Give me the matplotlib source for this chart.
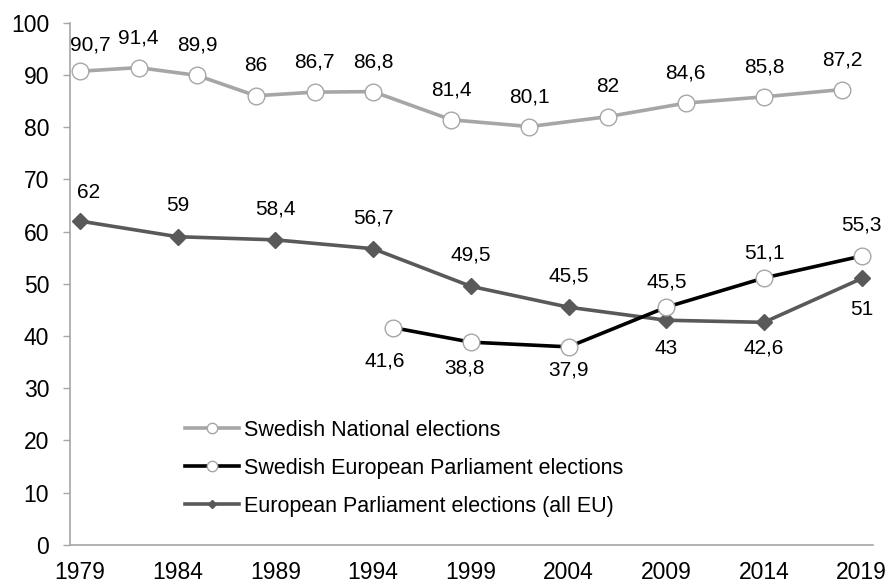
import matplotlib
matplotlib.use("Agg")
import matplotlib.pyplot as plt
from matplotlib.lines import Line2D

plt.rcParams['font.family'] = ['Liberation Sans', 'DejaVu Sans']

# Turnout (%) by election year
nat_years = [1979, 1982, 1985, 1988, 1991, 1994, 1998, 2002, 2006, 2010, 2014, 2018]
nat_turnout = [90.7, 91.4, 89.9, 86, 86.7, 86.8, 81.4, 80.1, 82, 84.6, 85.8, 87.2]

se_ep_years = [1995, 1999, 2004, 2009, 2014, 2019]
se_ep_turnout = [41.6, 38.8, 37.9, 45.5, 51.1, 55.3]

eu_years = [1979, 1984, 1989, 1994, 1999, 2004, 2009, 2014, 2019]
eu_turnout = [62, 59, 58.4, 56.7, 49.5, 45.5, 43, 42.6, 51]

x_ticks = [1979, 1984, 1989, 1994, 1999, 2004, 2009, 2014, 2019]
y_ticks = list(range(0, 101, 10))

series_names = ["Swedish National elections",
                "Swedish European Parliament elections",
                "European Parliament elections (all EU)"]

# label placement (pixel offsets from each point)
nat_label_offsets = [(10, 26)] + [(0, 30)] * 11
se_ep_label_offsets = [(-8, -33), (-6, -26), (0, -23), (0, 25), (0, 25), (0, 31)]
eu_label_offsets = [(9, 29), (0, 31), (0, 31), (0, 31), (0, 31), (0, 31),
                    (0, -28), (0, -26), (0, -31)]

LIGHT = "#A6A6A6"
DARK = "#595959"

W, H, DPI = 891, 583, 100
fig = plt.figure(figsize=(W / DPI, H / DPI), dpi=DPI)
ax = fig.add_axes([70 / W, 1 - 544.7 / H, (872.7 - 70) / W, (544.7 - 22.7) / H])

px_per_year = (861.7 - 80) / 40
ax.set_xlim(1979 - 10 / px_per_year, 1979 + (872.7 - 80) / px_per_year)
ax.set_ylim(0, 100)

ax.plot(nat_years, nat_turnout, color=LIGHT, lw=2.6, marker='o', ms=12,
        mfc='white', mec=LIGHT, mew=1.0, zorder=3)
ax.plot(eu_years, eu_turnout, color=DARK, lw=2.6, marker='D', ms=8,
        mfc=DARK, mec=DARK, zorder=3)
ax.plot(se_ep_years, se_ep_turnout, color='black', lw=2.6, marker='o', ms=12,
        mfc='white', mec=LIGHT, mew=1.0, zorder=4)


def fmt(v):
    return f"{v:g}".replace('.', ',')


for xs, ys, offs in [(nat_years, nat_turnout, nat_label_offsets),
                     (se_ep_years, se_ep_turnout, se_ep_label_offsets),
                     (eu_years, eu_turnout, eu_label_offsets)]:
    for x, y, (dx, dy) in zip(xs, ys, offs):
        ax.annotate(fmt(y), (x, y), xytext=(dx, dy), textcoords='offset pixels',
                    ha='center', va='center', fontsize=15, color='black')

ax.set_xticks(x_ticks)
ax.set_xticklabels([str(t) for t in x_ticks])
ax.set_yticks(y_ticks)
ax.set_yticklabels([str(t) for t in y_ticks])
ax.tick_params(axis='x', length=0, pad=12, labelsize=16.5)
ax.tick_params(axis='y', length=5, width=1.0, color=LIGHT, pad=10, labelsize=16.5)

for side in ['top', 'right']:
    ax.spines[side].set_visible(False)
for side in ['left', 'bottom']:
    ax.spines[side].set_color(LIGHT)
    ax.spines[side].set_linewidth(1.2)

handles = [
    Line2D([], [], color=LIGHT, lw=2.6, marker='o', ms=7.5, mfc='white', mec=LIGHT, mew=1.0),
    Line2D([], [], color='black', lw=2.6, marker='o', ms=7.5, mfc='white', mec=LIGHT, mew=1.0),
    Line2D([], [], color=DARK, lw=2.6, marker='D', ms=4.5, mfc=DARK, mec=DARK),
]
fig.legend(handles, series_names, loc='upper left',
           bbox_to_anchor=(185 / W, 1 - 420 / H), frameon=False, fontsize=15.5,
           borderpad=0, borderaxespad=0, handlelength=2.5, handletextpad=0.25,
           labelspacing=0.78)

fig.savefig("out.png", dpi=DPI)
